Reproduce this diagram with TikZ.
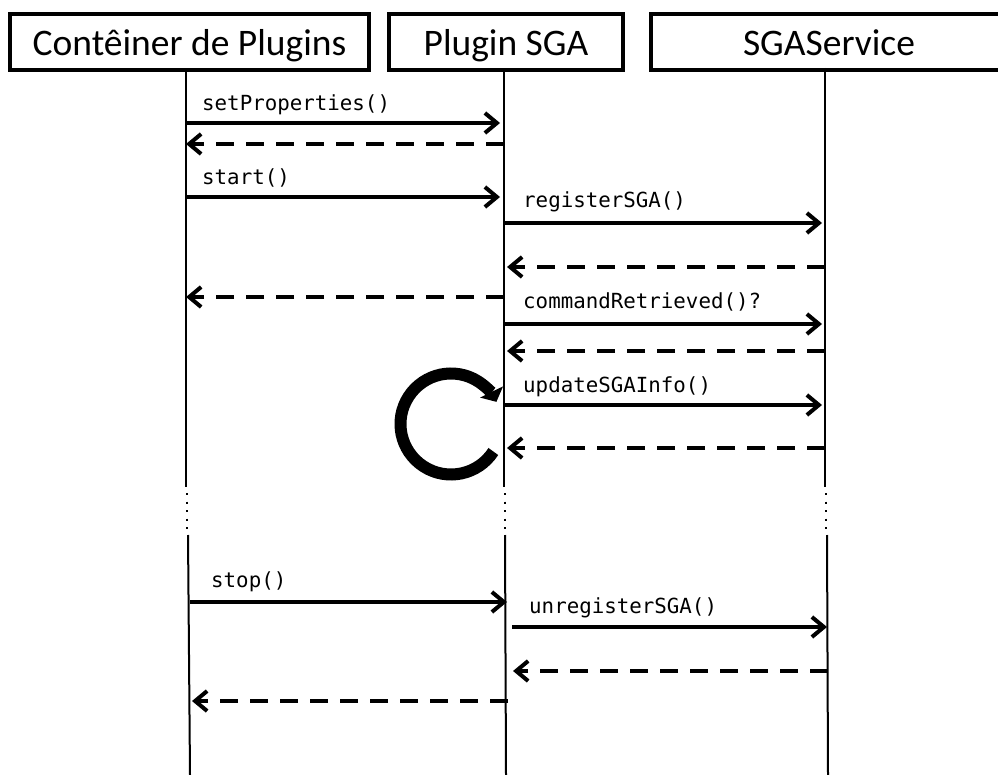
\documentclass[tikz,border=0pt]{standalone}
\usepackage{fontspec}
\setmainfont{Carlito}
\newfontfamily\msgfont{DejaVu Sans Mono}
\usetikzlibrary{arrows.meta}

\begin{document}
\begin{tikzpicture}[x=1pt,y=-1pt,
  actor/.style={draw, line width=4pt, inner sep=0pt, anchor=north west,
    minimum height=56pt, text height=30pt, text depth=2pt,
    font=\fontsize{37.5}{40}\selectfont},
  lifeline/.style={line width=2pt},
  gapline/.style={line width=2pt, dash pattern=on 2pt off 6.5pt},
  call/.style={line width=4pt, -{Straight Barb[length=12pt,width=20pt]}},
  reply/.style={call, dash pattern=on 18pt off 12pt},
  lbl/.style={anchor=base west, inner sep=0pt, font=\msgfont\fontsize{20.8}{24}\selectfont},
  selfloop/.style={line width=12pt, -{Triangle[length=11pt,width=25pt]}}
]
\useasboundingbox (0,0) rectangle (998,775);
\clip (0,0) rectangle (998,775);

% participants
\node[actor, minimum width=359pt] (boxA) at (8,12) {Contêiner de Plugins};
\node[actor, minimum width=234pt] (boxB) at (387,12) {Plugin SGA};
\node[actor, minimum width=356pt] (boxC) at (649,12) {SGAService};

% lifeline break points
\coordinate (Aup) at (186,68);  \coordinate (Aend) at (186,487);
\coordinate (Ads) at (187,493); \coordinate (Ade) at (187,531);
\coordinate (Alo) at (188,535); \coordinate (Abot) at (190,775);
\coordinate (Bup) at (504,68);  \coordinate (Bend) at (504,487);
\coordinate (Bds) at (505,493); \coordinate (Bde) at (505,531);
\coordinate (Blo) at (505,535); \coordinate (Bbot) at (506,775);
\coordinate (Cup) at (825,68);  \coordinate (Cend) at (825,487);
\coordinate (Cds) at (826,493); \coordinate (Cde) at (826,531);
\coordinate (Clo) at (827,535); \coordinate (Cbot) at (828,775);

% lifelines
\draw[lifeline] (boxA.south -| Aup) -- (Aend);
\draw[gapline] (Ads) -- (Ade);
\draw[lifeline] (Alo) -- (Abot);
\draw[lifeline] (boxB.south -| Bup) -- (Bend);
\draw[gapline] (Bds) -- (Bde);
\draw[lifeline] (Blo) -- (Bbot);
\draw[lifeline] (Cup) -- (Cend);
\draw[gapline] (Cds) -- (Cde);
\draw[lifeline] (Clo) -- (Cbot);

% message end points
\coordinate (a1) at (186,123); \coordinate (b1) at (500,123);
\coordinate (a2) at (504,144); \coordinate (b2) at (186,144);
\coordinate (a3) at (186,197); \coordinate (b3) at (500,197);
\coordinate (a4) at (504,223); \coordinate (b4) at (822,223);
\coordinate (a5) at (825,267); \coordinate (b5) at (507,267);
\coordinate (a6) at (504,297); \coordinate (b6) at (186,297);
\coordinate (a7) at (504,324); \coordinate (b7) at (822,324);
\coordinate (a8) at (825,351); \coordinate (b8) at (507,351);
\coordinate (a9) at (504,405); \coordinate (b9) at (822,405);
\coordinate (a10) at (825,448); \coordinate (b10) at (507,448);
\coordinate (a11) at (190,602); \coordinate (b11) at (507,602);
\coordinate (a12) at (512,627); \coordinate (b12) at (827,627);
\coordinate (a13) at (828,671); \coordinate (b13) at (513,671);
\coordinate (a14) at (508,701); \coordinate (b14) at (192,701);

% messages
\draw[call] (a1) -- (b1);
\draw[reply] (a2) -- (b2);
\draw[call] (a3) -- (b3);
\draw[call] (a4) -- (b4);
\draw[reply] (a5) -- (b5);
\draw[reply] (a6) -- (b6);
\draw[call] (a7) -- (b7);
\draw[reply] (a8) -- (b8);
\draw[call] (a9) -- (b9);
\draw[reply] (a10) -- (b10);
\draw[call] (a11) -- (b11);
\draw[call] (a12) -- (b12);
\draw[reply] (a13) -- (b13);
\draw[reply] (a14) -- (b14);

% labels
\node[lbl] (l1) at (202,111) {setProperties()};
\node[lbl] (l3) at (202,185) {start()};
\node[lbl] (l4) at (523,208) {registerSGA()};
\node[lbl] (l7) at (523,309) {commandRetrieved()?};
\node[lbl] (l9) at (523,392) {updateSGAInfo()};
\node[lbl] (l11) at (211,587) {stop()};
\node[lbl] (l12) at (529,613) {unregisterSGA()};

% repetition loop
\coordinate (loopc) at (451,424);
\draw[selfloop] ([shift={(33:50.5)}]loopc) arc[start angle=33, end angle=334, radius=50.5];
\end{tikzpicture}
\end{document}
